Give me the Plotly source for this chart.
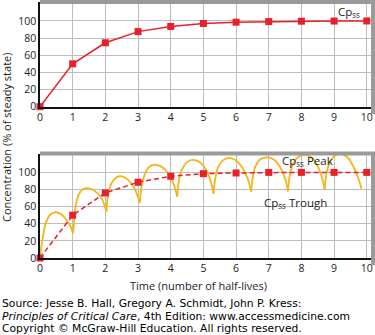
import plotly.graph_objects as go

# ---- data ----
half_lives = [0, 1, 2, 3, 4, 5, 6, 7, 8, 9, 10]
cp_top = [0, 50, 74.5, 87.5, 93.5, 97, 98.5, 99.2, 99.6, 99.8, 99.9]
cp_bottom = [0, 50, 76, 88.5, 95.5, 98.5, 99.3, 100, 100, 100, 100]

# oscillating concentration (repeated doses), arches separated by None
osc_x = [0, 0.04, 0.09, 0.16, 0.30, 0.45, 0.65, 0.80, 0.94, 1.01, None,
         1.01, 1.04, 1.08, 1.18, 1.32, 1.45, 1.67, 1.88, 2.03, None,
         2.03, 2.07, 2.15, 2.28, 2.42, 2.60, 2.80, 2.95, 3.06, None,
         3.06, 3.10, 3.20, 3.33, 3.50, 3.70, 3.90, 4.08, 4.20, None,
         4.20, 4.25, 4.35, 4.50, 4.66, 4.88, 5.08, 5.22, 5.31, None,
         5.31, 5.36, 5.45, 5.60, 5.77, 6.00, 6.20, 6.36, 6.46, None,
         6.46, 6.51, 6.60, 6.75, 6.94, 7.15, 7.35, 7.50, 7.59, None,
         7.59, 7.64, 7.74, 7.90, 8.08, 8.30, 8.50, 8.63, 8.71, None,
         8.71, 8.76, 8.86, 9.00, 9.18, 9.40, 9.60, 9.75, 9.84]
osc_y = [0, 13, 24.7, 38.5, 50, 53.4, 51, 45, 36.5, 28.7, None,
         28.7, 40.5, 58, 73.8, 80.5, 81.6, 78.5, 69.9, 54, None,
         54, 70, 84, 92, 95.5, 94, 87, 76, 64.5, None,
         64.5, 82, 97, 106, 109, 107, 100, 87, 71.5, None,
         71.5, 90, 104, 112, 114.5, 112, 103, 90, 75, None,
         75, 92, 106, 114, 117, 114, 105, 92, 77.5, None,
         77.5, 94, 108, 115.5, 117.5, 115, 106, 93, 78, None,
         78, 96, 110, 118, 120.5, 117.5, 107, 94, 80, None,
         80, 97, 111, 119, 121.5, 118, 106, 92, 81]

x_ticks = [0, 1, 2, 3, 4, 5, 6, 7, 8, 9, 10]
y_ticks = [0, 20, 40, 60, 80, 100]

RED = "#e8202a"
ORANGE = "#f7b418"
GRAY = "#9a9a9a"
GRID = "#bdbdbd"
TXT = "#1c1c28"
FONT = "Open Sans"

fig = go.Figure()

fig.add_trace(go.Scatter(x=half_lives, y=cp_top, mode="lines+markers",
                         line=dict(color=RED, width=1.5),
                         marker=dict(symbol="square", size=7, color=RED),
                         cliponaxis=False, xaxis="x", yaxis="y"))

fig.add_trace(go.Scatter(x=osc_x, y=osc_y, mode="lines", connectgaps=False,
                         line=dict(color=ORANGE, width=1.8, shape="spline", smoothing=1),
                         cliponaxis=False, xaxis="x2", yaxis="y2"))

fig.add_trace(go.Scatter(x=half_lives, y=cp_bottom, mode="lines+markers",
                         line=dict(color=RED, width=1.5, dash="5px,3px"),
                         marker=dict(symbol="square", size=7, color=RED),
                         cliponaxis=False, xaxis="x2", yaxis="y2"))

axis_common = dict(showgrid=True, gridcolor=GRID, gridwidth=1.2, zeroline=False,
                   showline=True, linecolor="#111111", linewidth=1.5,
                   ticks="", tickfont=dict(family=FONT, size=10.5, color=TXT))

fig.update_layout(
    width=375, height=335,
    margin=dict(l=40, r=2, t=2, b=77),
    paper_bgcolor="white", plot_bgcolor="white",
    showlegend=False,
    xaxis=dict(domain=[0, 1], range=[0, 10.19], tickvals=x_ticks, anchor="y", **axis_common),
    yaxis=dict(domain=[0.591, 1], range=[0, 122], tickvals=y_ticks, anchor="x", **axis_common),
    xaxis2=dict(domain=[0, 1], range=[0, 10.19], tickvals=x_ticks, anchor="y2", **axis_common),
    yaxis2=dict(domain=[0, 0.408], range=[0, 122], tickvals=y_ticks, anchor="x2", **axis_common),
)

# gray frame bars on top and right of each panel
for xr, yr in (("x domain", "y domain"), ("x2 domain", "y2 domain")):
    fig.add_shape(type="line", xref=xr, yref=yr, x0=0, x1=1.01, y0=1, y1=1,
                  line=dict(color=GRAY, width=4))
    fig.add_shape(type="line", xref=xr, yref=yr, x0=1, x1=1, y0=-0.07, y1=1,
                  line=dict(color=GRAY, width=4))

ann_font = dict(family=FONT, size=11.5, color=TXT)
fig.add_annotation(x=9.46, y=110, xref="x", yref="y", text="Cp<sub>ss</sub>",
                   showarrow=False, font=ann_font, xanchor="center", yanchor="middle")
fig.add_annotation(x=8.2, y=113, xref="x2", yref="y2", text="Cp<sub>ss</sub> Peak",
                   showarrow=False, font=ann_font, xanchor="center", yanchor="middle")
fig.add_annotation(x=7.82, y=64, xref="x2", yref="y2", text="Cp<sub>ss</sub> Trough",
                   showarrow=False, font=ann_font, xanchor="center", yanchor="middle")

fig.add_annotation(x=-0.1006, y=0.4707, xref="paper", yref="paper",
                   text="Concentration (% of steady state)", textangle=-90,
                   xanchor="center", yanchor="middle",
                   showarrow=False, font=dict(family=FONT, size=11, color=TXT))
fig.add_annotation(x=0.4745, y=-0.1055, xref="paper", yref="paper",
                   text="Time (number of half-lives)", xanchor="center", yanchor="middle",
                   showarrow=False, font=dict(family=FONT, size=11, color=TXT))

src_font = dict(family="DejaVu Sans", size=10.75, color="#000000")
src_lines = ["Source: Jesse B. Hall, Gregory A. Schmidt, John P. Kress:",
             "<i>Principles of Critical Care</i>, 4th Edition: www.accessmedicine.com",
             "Copyright © McGraw-Hill Education. All rights reserved."]
for line, yy in zip(src_lines, [-0.1758, -0.2266, -0.2754]):
    fig.add_annotation(x=-0.1201, y=yy, xref="paper", yref="paper", text=line,
                       xanchor="left", yanchor="middle", showarrow=False, font=src_font)

fig.write_html("out.html")
